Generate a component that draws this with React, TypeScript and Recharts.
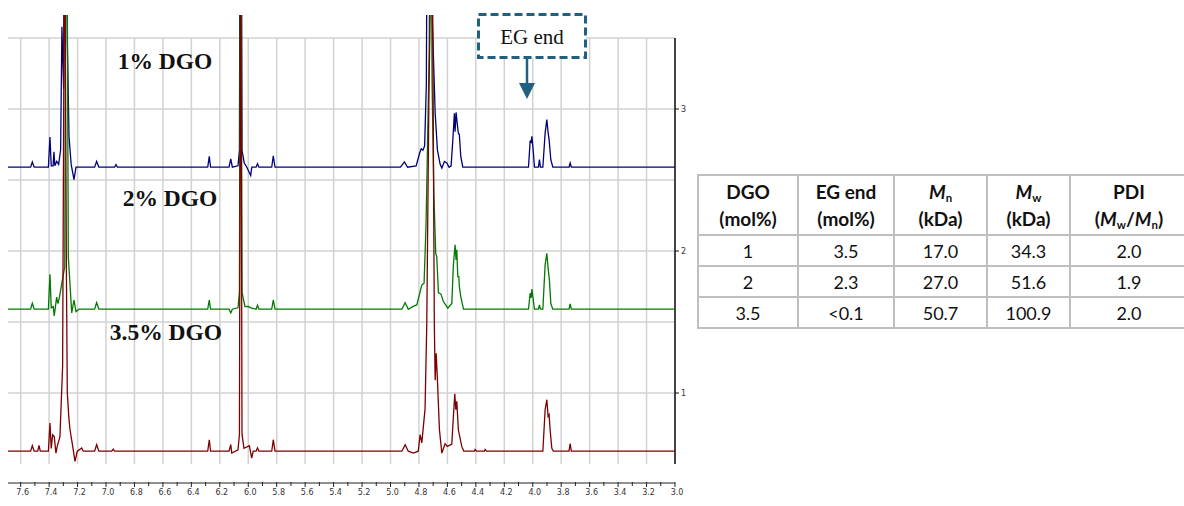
import React from 'react';
import { LineChart, Line, XAxis, YAxis, CartesianGrid } from 'recharts';

// chemical shift (ppm) vs. intensity above each trace's own baseline
const spectrum1 = [
  [7.69, 0], [7.53, 0], [7.518, 0.037], [7.505, 0], [7.405, 0], [7.394, 0.213], [7.385, 0.01], [7.372, 0.01],
  [7.366, 0.109], [7.36, 0.01], [7.347, 0.041], [7.333, 0.02], [7.319, 0.123], [7.31, 0.99], [7.298, 0.55],
  [7.286, 4.0], [7.272, 0.877], [7.26, 0.215], [7.245, 0.02], [7.225, -0.088], [7.211, 0],
  [7.08, 0], [7.066, 0.041], [7.05, 0], [6.94, 0], [6.93, 0.018], [6.92, 0],
  [6.285, 0], [6.274, 0.076], [6.265, 0], [6.135, 0], [6.123, 0.058], [6.112, 0],
  [6.072, 0.01], [6.062, 0.12], [6.053, 4.0], [6.044, 0.12], [6.028, 0.03], [6.01, 0], [5.983, -0.058], [5.975, 0],
  [5.945, 0], [5.935, 0.025], [5.925, 0], [5.835, 0], [5.824, 0.081], [5.812, 0],
  [4.93, 0], [4.902, 0.037], [4.88, 0], [4.82, 0.01], [4.795, 0.1], [4.784, 0.13], [4.772, 0.12], [4.76, 0.15],
  [4.748, 0.59], [4.733, 4.0], [4.719, 2.0], [4.705, 1.0], [4.686, 0.38], [4.67, 0.12], [4.651, 0.02], [4.639, -0.006],
  [4.621, 0.04], [4.604, 0.03], [4.588, 0], [4.574, 0.01], [4.562, 0.19], [4.551, 0.38], [4.546, 0.25], [4.539, 0.386],
  [4.53, 0.3], [4.523, 0.24], [4.516, 0.23], [4.506, 0.076], [4.492, 0],
  [4.03, 0], [4.018, 0.188], [4.011, 0.17], [4.006, 0.217], [3.999, 0.146], [3.988, 0], [3.96, 0], [3.953, 0.053],
  [3.946, 0], [3.929, 0], [3.913, 0.24], [3.901, 0.335], [3.892, 0.243], [3.885, 0.194], [3.873, 0.053], [3.859, 0],
  [3.745, 0], [3.737, 0.03], [3.729, 0], [3.0, 0],
];

const spectrum2 = [
  [7.69, 0], [7.53, 0], [7.518, 0.042], [7.505, 0], [7.405, 0], [7.394, 0.246], [7.385, 0.01], [7.371, 0.018],
  [7.364, -0.047], [7.347, 0.085], [7.338, 0.04], [7.329, 0.077], [7.29, 0.3], [7.279, 4.0], [7.265, 0.37],
  [7.258, 0.255], [7.241, -0.026], [7.225, 0.065], [7.211, -0.017], [7.19, 0],
  [7.08, 0], [7.066, 0.046], [7.05, 0], [6.285, 0], [6.274, 0.065], [6.265, 0], [6.135, 0], [6.123, -0.026], [6.112, 0],
  [6.072, 0.01], [6.062, 0.12], [6.053, 4.0], [6.044, 0.12], [6.023, 0.018], [6.0, 0.02], [5.983, 0.01],
  [5.945, 0], [5.935, 0.028], [5.925, 0], [5.835, 0], [5.824, 0.065], [5.812, 0],
  [4.92, 0], [4.897, 0.046], [4.875, 0], [4.834, 0.023], [4.815, 0.03], [4.78, 0.17], [4.764, 0.183], [4.75, 0.6],
  [4.728, 1.8], [4.717, 4.0], [4.708, 1.6], [4.695, 0.8], [4.682, 0.394], [4.675, 0.37], [4.663, 0.115], [4.646, 0.108],
  [4.628, 0.054], [4.597, 0.007], [4.569, 0.04], [4.558, 0.312], [4.546, 0.453], [4.539, 0.347], [4.534, 0.418],
  [4.527, 0.23], [4.52, 0.23], [4.516, 0.16], [4.506, 0.089], [4.487, 0],
  [4.03, 0], [4.018, 0.113], [4.011, 0.08], [4.006, 0.141], [3.999, 0.088], [3.988, 0], [3.96, 0], [3.953, 0.03],
  [3.946, 0], [3.929, 0], [3.913, 0.312], [3.901, 0.394], [3.892, 0.289], [3.883, 0.206], [3.873, 0.04], [3.859, 0],
  [3.745, 0], [3.737, 0.037], [3.729, 0], [3.0, 0],
];

const spectrum35 = [
  [7.69, 0], [7.53, 0], [7.518, 0.039], [7.505, 0], [7.48, 0], [7.471, 0.041], [7.462, 0], [7.405, 0], [7.394, 0.199],
  [7.385, 0.02], [7.375, 0.116], [7.364, 0.104], [7.352, -0.013], [7.343, 0.034], [7.324, 0.1], [7.305, 0.6],
  [7.291, 4.0], [7.278, 1.2], [7.272, 0.41], [7.262, 0.245], [7.253, 0.151], [7.234, 0.034], [7.218, -0.072],
  [7.202, 0], [7.171, 0.023], [7.16, 0], [7.08, 0], [7.066, 0.046], [7.05, 0], [6.96, 0], [6.949, 0.015], [6.94, 0],
  [6.285, 0], [6.274, 0.081], [6.265, 0], [6.135, 0], [6.123, 0.046], [6.116, -0.013], [6.072, 0.01], [6.062, 0.12],
  [6.053, 4.0], [6.044, 0.12], [6.03, 0.02], [5.992, 0.039], [5.976, -0.048], [5.965, 0], [5.945, 0], [5.935, 0.023],
  [5.925, 0], [5.835, 0], [5.824, 0.081], [5.812, 0],
  [4.92, 0], [4.897, 0.046], [4.875, 0], [4.839, -0.013], [4.805, 0], [4.792, 0.116], [4.78, 0.058], [4.757, 0.3],
  [4.745, 0.9], [4.73, 2.5], [4.708, 4.0], [4.692, 0.9], [4.686, 0.5], [4.679, 0.69], [4.67, 0.5], [4.656, 0.151], [4.639, -0.013],
  [4.616, 0.053], [4.6, 0.034], [4.569, 0.05], [4.558, 0.245], [4.548, 0.405], [4.541, 0.292], [4.534, 0.351],
  [4.523, 0.151], [4.499, 0.034], [4.485, 0], [4.41, 0], [4.405, 0.012], [4.395, 0], [4.34, 0], [4.335, 0.012], [4.325, 0],
  [3.929, 0], [3.913, 0.292], [3.901, 0.363], [3.892, 0.245], [3.885, 0.257], [3.878, 0.151], [3.866, 0.02], [3.855, 0],
  [3.745, 0], [3.737, 0.053], [3.729, 0], [3.0, 0],
];

const traceOffsets = [2.59, 1.59, 0.59];
const traceColors = ['#00007c', '#007a00', '#7c0000'];
const traceLabels = ['1% DGO', '2% DGO', '3.5% DGO'];

const majorTicks = [7.6, 7.4, 7.2, 7.0, 6.8, 6.6, 6.4, 6.2, 6.0, 5.8, 5.6, 5.4, 5.2, 5.0, 4.8, 4.6, 4.4, 4.2, 4.0, 3.8, 3.6, 3.4, 3.2, 3.0];
const minorTicks = [7.5, 7.3, 7.1, 6.9, 6.7, 6.5, 6.3, 6.1, 5.9, 5.7, 5.5, 5.3, 5.1, 4.9, 4.7, 4.5, 4.3, 4.1, 3.9, 3.7, 3.5, 3.3, 3.1];
const rightTicks = [1, 2, 3];
const gridRows = [0.5, 1, 1.5, 2, 2.5, 3, 3.5];

const tableHead = [
  ['DGO', '(mol%)'],
  ['EG end', '(mol%)'],
  ['Mn', '(kDa)'],
  ['Mw', '(kDa)'],
  ['PDI', 'Mw/Mn'],
];
const tableRows = [
  ['1', '3.5', '17.0', '34.3', '2.0'],
  ['2', '2.3', '27.0', '51.6', '1.9'],
  ['3.5', '<0.1', '50.7', '100.9', '2.0'],
];

const X_DOMAIN = [3.0, 7.689];
const W = 700;
const H = 470;

const traces = [spectrum1, spectrum2, spectrum35].map((s, i) =>
  s.map(([ppm, r]) => ({ ppm, v: r + traceOffsets[i] }))
);
const allTicks = [...majorTicks, ...minorTicks].sort((a, b) => b - a);

const Mi = ({ s }: { s: string }) => (
  <span>
    <i>M</i>
    <span style={{ fontSize: '0.6em', fontStyle: 'normal', position: 'relative', top: '0.3em', lineHeight: 0 }}>{s}</span>
  </span>
);

const headCell = (i: number) => {
  const [a, b] = tableHead[i];
  const top = a === 'Mn' ? <Mi s="n" /> : a === 'Mw' ? <Mi s="w" /> : a;
  const bottom = i === 4 ? <span>(<Mi s="w" />/<Mi s="n" />)</span> : b;
  return <>{top}<br />{bottom}</>;
};

const BottomTick = (props: any) => {
  const { x, y, payload } = props;
  const val = payload.value;
  const major = majorTicks.some(t => Math.abs(t - val) < 1e-6);
  return (
    <g>
      <line x1={x} x2={x} y1={y - 1} y2={y + (major ? 4 : 3)} stroke="#222" strokeWidth={1} />
      {major && (
        <text x={x + 2} y={y + 12} textAnchor="middle" fontSize={8} fill="#333" fontFamily="DejaVu Sans">
          {val.toFixed(1)}
        </text>
      )}
    </g>
  );
};

export default function App() {
  const border = '2px solid #bfbfbf';
  const colW = [100, 96, 93, 83, 118];
  return (
    <div style={{ position: 'absolute', left: 0, top: 0, width: 1184, height: 506, overflow: 'hidden', background: '#fff' }}>
      {/* grid + right axis */}
      <div style={{ position: 'absolute', left: 0, top: 0 }}>
        <LineChart width={W} height={H} data={traces[2]} margin={{ top: 38, right: 0, bottom: 6, left: 8 }}>
          <CartesianGrid stroke="#d2d2d2" strokeWidth={1.5} verticalValues={[...majorTicks, 7.689]} horizontalValues={gridRows} />
          <XAxis hide type="number" dataKey="ppm" domain={X_DOMAIN} reversed allowDataOverflow ticks={[...majorTicks, 7.689]} />
          <YAxis
            orientation="right"
            width={25}
            type="number"
            domain={[0.5, 3.5]}
            allowDataOverflow
            ticks={rightTicks}
            tickSize={4}
            tickMargin={2}
            axisLine={{ stroke: '#111', strokeWidth: 1.5 }}
            tickLine={{ stroke: '#111' }}
            tick={{ fontSize: 8, fill: '#333', fontFamily: 'DejaVu Sans' }}
          />
          <Line dataKey="v" stroke="none" dot={false} isAnimationActive={false} />
        </LineChart>
      </div>

      {/* spectra */}
      <div style={{ position: 'absolute', left: 0, top: 0 }}>
        <LineChart width={W} height={H} margin={{ top: 15, right: 25, bottom: 6, left: 8 }}>
          <XAxis hide type="number" dataKey="ppm" domain={X_DOMAIN} reversed allowDataOverflow />
          <YAxis hide type="number" domain={[0.5, 3.662]} allowDataOverflow />
          {traces.map((d, i) => (
            <Line
              key={i}
              data={d}
              dataKey="v"
              type="linear"
              stroke={traceColors[i]}
              strokeWidth={1.3}
              dot={false}
              isAnimationActive={false}
            />
          ))}
        </LineChart>
      </div>

      {/* ppm axis */}
      <div style={{ position: 'absolute', left: 0, top: 470 }}>
        <LineChart width={W} height={36} data={traces[2]} margin={{ top: 12, right: 25, bottom: 0, left: 8 }}>
          <XAxis
            type="number"
            dataKey="ppm"
            domain={X_DOMAIN}
            reversed
            allowDataOverflow
            ticks={allTicks}
            interval={0}
            height={23}
            tickSize={0}
            tickMargin={0}
            tickLine={false}
            axisLine={{ stroke: '#222', strokeWidth: 1 }}
            tick={<BottomTick />}
          />
          <YAxis hide domain={[0, 1]} />
          <Line dataKey="v" stroke="none" dot={false} isAnimationActive={false} />
        </LineChart>
      </div>

      {/* annotations */}
      <svg width={1184} height={506} style={{ position: 'absolute', left: 0, top: 0, pointerEvents: 'none' }}>
        {traceLabels.map((t, i) => (
          <text
            key={t}
            x={[165, 170, 166][i]}
            y={[69, 206, 340][i]}
            textAnchor="middle"
            fontFamily="'Liberation Serif', 'Times New Roman', serif"
            fontWeight="bold"
            fontSize={23.5}
            fill="#111"
          >
            {t}
          </text>
        ))}
        <rect x={478.5} y={14.5} width={107} height={43} fill="#fff" stroke="#21607e" strokeWidth={3} strokeDasharray="8 4" />
        <text x={532} y={44} textAnchor="middle" fontFamily="'Liberation Serif', serif" fontSize={21} fill="#111">EG end</text>
        <line x1={527} y1={58} x2={527} y2={85} stroke="#21607e" strokeWidth={2.5} />
        <polygon points="519,83 535,83 527,99" fill="#21607e" />
      </svg>

      {/* summary table */}
      <table
        style={{
          position: 'absolute',
          left: 697,
          top: 174,
          borderCollapse: 'collapse',
          fontFamily: "Lato, 'Open Sans', sans-serif",
          fontSize: 18,
          color: '#111',
          tableLayout: 'fixed',
          width: colW.reduce((a, b) => a + b, 0),
        }}
      >
        <colgroup>
          {colW.map((w, i) => <col key={i} style={{ width: w }} />)}
        </colgroup>
        <tbody>
          <tr style={{ height: 60 }}>
            {tableHead.map((_, i) => (
              <td key={i} style={{ border, textAlign: 'center', fontWeight: 'bold', fontSize: 19, lineHeight: '27px', padding: 0 }}>
                {headCell(i)}
              </td>
            ))}
          </tr>
          {tableRows.map((r, ri) => (
            <tr key={ri} style={{ height: 31 }}>
              {r.map((c, ci) => (
                <td key={ci} style={{ border, textAlign: 'center', padding: 0, lineHeight: '26px' }}>{c}</td>
              ))}
            </tr>
          ))}
        </tbody>
      </table>
    </div>
  );
}
